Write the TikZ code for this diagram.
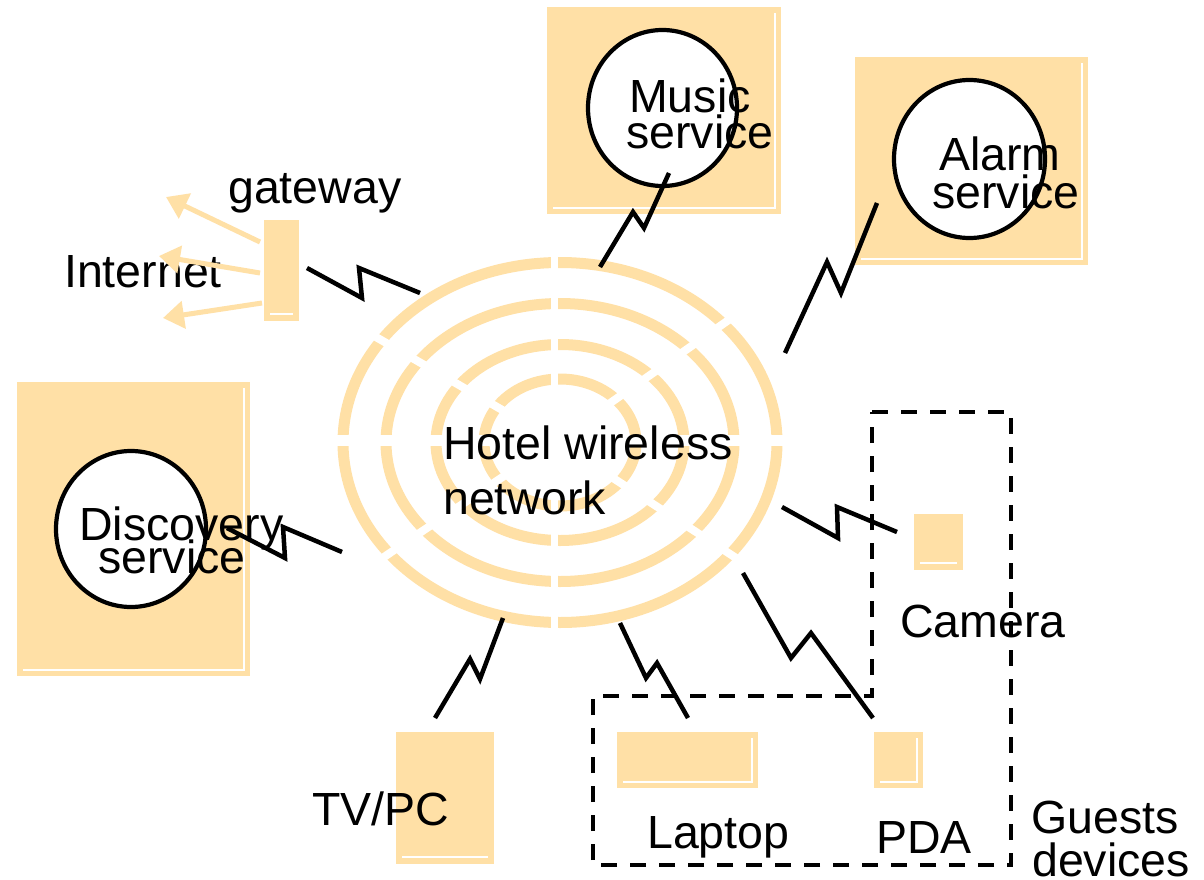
\documentclass[tikz,border=0pt]{standalone}
\usepackage{fontspec}
\setmainfont{Liberation Sans}
\usetikzlibrary{arrows.meta,shapes.geometric,calc}
\definecolor{peach}{RGB}{255,224,166}
\begin{document}
\begin{tikzpicture}[x=1pt,y=-1pt,
  pbox/.style={fill=peach,draw=none,inner sep=0pt,outer sep=0pt},
  hl/.style={draw=white,line width=1.5pt},
  ring/.style={draw=peach,line width=11pt},
  cut/.style={draw=white,line width=8pt},
  svc/.style={ellipse,draw=black,fill=white,line width=4.2pt,inner sep=0pt},
  lbl/.style={font=\fontsize{46.5pt}{50pt}\selectfont,inner sep=0pt,anchor=base west},
  parrow/.style={draw=peach,line width=5pt,-{Triangle[length=21pt,width=27pt]}},
  bolt/.style={draw=black,line width=4.5pt},
  grp/.style={draw=black,line width=3.5pt,dash pattern=on 16pt off 13pt}]
\useasboundingbox (0,0) rectangle (1204,880);
\fill[white] (0,0) rectangle (1204,880);

% ---- peach boxes ----
\node[pbox,minimum width=234pt,minimum height=207pt] (musicbox) at (664,110.5) {};
\node[pbox,minimum width=233pt,minimum height=208pt] (alarmbox) at (971.5,161) {};
\node[pbox,minimum width=233pt,minimum height=294pt] (discbox) at (133.5,529) {};
\node[pbox,minimum width=35pt,minimum height=101pt] (gw) at (281.5,270.5) {};
\node[pbox,minimum width=98pt,minimum height=132pt] (tvpc) at (445,798) {};
\node[pbox,minimum width=141pt,minimum height=56pt] (laptop) at (687.5,760) {};
\node[pbox,minimum width=49pt,minimum height=56pt] (pda) at (898.5,760) {};
\node[pbox,minimum width=49pt,minimum height=56pt] (camera) at (938.5,542) {};

% white highlight lines
\foreach \b in {musicbox,alarmbox,discbox,laptop,pda}{
  \draw[hl] ($(\b.south west)+(6,-6)$) -- ($(\b.south east)+(-6,-6)$) -- ($(\b.north east)+(-6,6)$);
}
\foreach \b in {gw,tvpc,camera}{
  \draw[hl] ($(\b.south west)+(6,-7)$) -- ($(\b.south east)+(-6,-7)$);
}

% ---- wireless network rings ----
\coordinate (hub) at (560,442.5);
\coordinate (hubc) at (556,441);
\draw[ring] (hub) ellipse [x radius=217pt, y radius=180pt];
\draw[ring] (hub) ellipse [x radius=174pt, y radius=139pt];
\draw[ring] (hub) ellipse [x radius=124pt, y radius=98pt];
\draw[ring] (hub) ellipse [x radius=76pt, y radius=63.5pt];
\draw[cut,line width=7.5pt] (554.5,245) -- (554.5,640);
\draw[cut,line width=11pt] (325,440) -- (795,440);
\draw[cut] (hubc) -- ++({-0.866*235},{-0.5*235});
\draw[cut] (hubc) -- ++({0.819*235},{-0.574*235});
\draw[cut] (hubc) -- ++({-0.829*235},{0.559*235});
\draw[cut] (hubc) -- ++({0.839*235},{0.545*235});

% ---- service circles ----
\node[svc,minimum width=149pt,minimum height=156pt] (music) at (662.5,108) {};
\node[svc,minimum width=151pt,minimum height=158pt] (alarm) at (969.5,159) {};
\node[svc,minimum width=150pt,minimum height=156pt] (disc) at (131,529) {};

% ---- labels ----
\node[lbl] (tmusic1) at (629,113) {Music};
\node[lbl] (tmusic2) at (626,148) {service};
\node[lbl] (talarm1) at (939,170) {Alarm};
\node[lbl] (talarm2) at (932,208) {service};
\node[lbl] (tdisc1) at (79,540) {Discovery};
\node[lbl] (tdisc2) at (98,573) {service};
\node[lbl] (tgw) at (228,203) {gateway};
\node[lbl] (tnet) at (64,287) {Internet};
\node[lbl] (thotel1) at (443,459) {Hotel wireless};
\node[lbl] (thotel2) at (443,514) {network};
\node[lbl] (ttv) at (312,825) {TV/PC};
\node[lbl] (tlaptop) at (647,848) {Laptop};
\node[lbl] (tpda) at (876,853) {PDA};
\node[lbl] (tcam) at (900,637) {Camera};
\node[lbl] (tguest1) at (1031,833) {Guests};
\node[lbl] (tguest2) at (1032,876) {devices};

% ---- internet arrows ----
\coordinate (in1) at (166,197);
\coordinate (in2) at (159,256);
\coordinate (in3) at (163,318);
\draw[parrow] ($(gw.north west)+(-4,22)$) -- (in1);
\draw[parrow] ($(gw.north west)+(-4,53)$) -- (in2);
\draw[parrow] ($(gw.north west)+(-2,83)$) -- (in3);

% ---- wireless links ----
\coordinate (bg1) at (307,268);   \coordinate (bg2) at (420,293);
\coordinate (bm1) at (600,267);   \coordinate (bm2) at (669,173);
\coordinate (ba1) at (785,353);   \coordinate (ba2) at (877,203);
\coordinate (bd1) at (342,552);   \coordinate (bd2) at (227,528);
\coordinate (bt1) at (503,618);   \coordinate (bt2) at (435,718);
\coordinate (bl1) at (620,623);   \coordinate (bl2) at (688,718);
\coordinate (bp1) at (743,573);   \coordinate (bp2) at (873,718);
\coordinate (bc1) at (782,507);   \coordinate (bc2) at (897,532);
\draw[bolt] (bg1) -- ++(55,30) -- ++(-3,-30) -- (bg2);
\draw[bolt] (bm1) -- ++(33,-55) -- ++(11,16) -- (bm2);
\draw[bolt] (ba1) -- ++(42,-91) -- ++(14,31) -- (ba2);
\draw[bolt] (bd1) -- ++(-59,-25) -- ++(2,31) -- (bd2);
\draw[bolt] (bt1) -- ++(-23,61) -- ++(-10,-20) -- (bt2);
\draw[bolt] (bl1) -- ++(26,55) -- ++(11,-15) -- (bl2);
\draw[bolt] (bp1) -- ++(48,85) -- ++(20,-25) -- (bp2);
\draw[bolt] (bc1) -- ++(56,31) -- ++(-1,-31) -- (bc2);

% ---- guests devices group ----
\draw[grp] (872,412) -- (1011,412) -- (1011,865) -- (593,865) -- (593,696) -- (872,696) -- cycle;
\end{tikzpicture}
\end{document}
